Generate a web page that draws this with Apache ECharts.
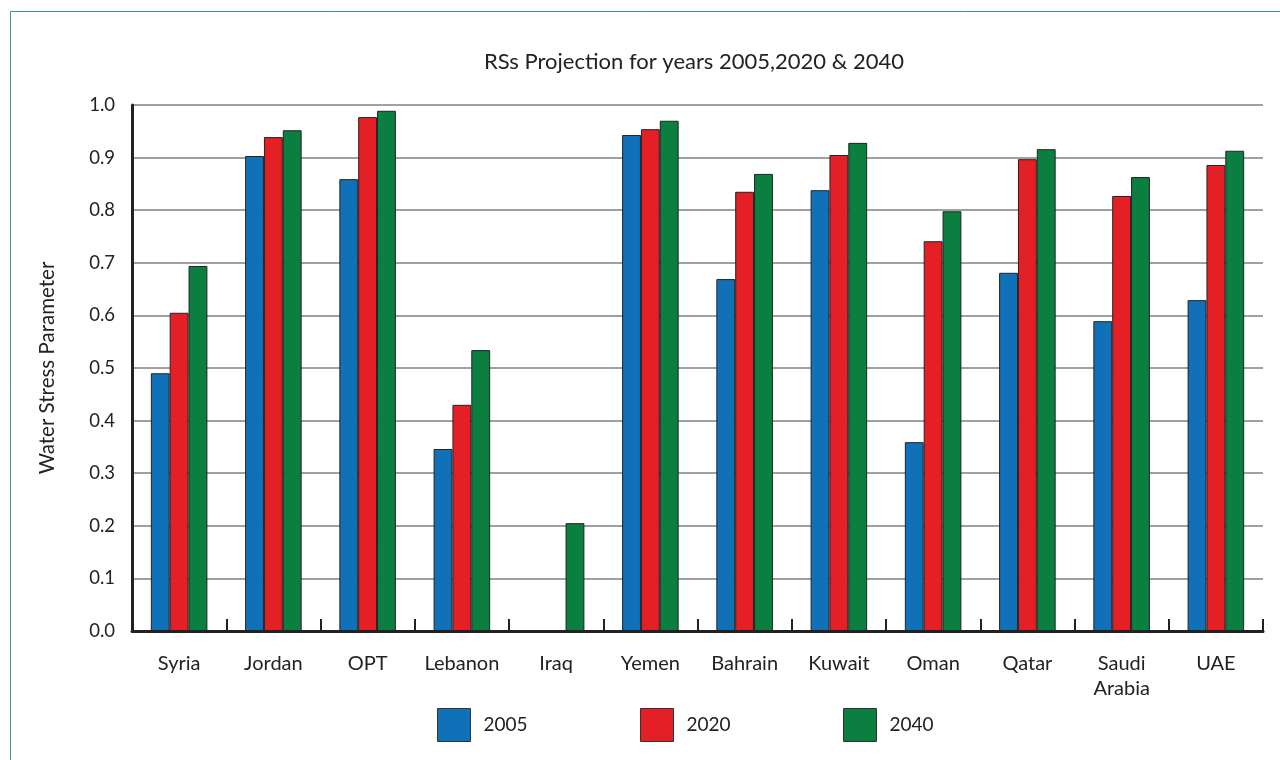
<!DOCTYPE html>
<html>
<head>
<meta charset="utf-8">
<title>RSs Projection</title>
<script src="https://cdn.jsdelivr.net/npm/echarts@6/dist/echarts.min.js"></script>
<style>
  html, body { margin: 0; padding: 0; background: #fff; }
  #chart { width: 1280px; height: 760px; }
</style>
</head>
<body>
<div id="chart"></div>
<script>
// data
var countries = ['Syria', 'Jordan', 'OPT', 'Lebanon', 'Iraq', 'Yemen', 'Bahrain', 'Kuwait', 'Oman', 'Qatar', 'Saudi\nArabia', 'UAE'];
var years = ['2005', '2020', '2040'];
var v2005 = [0.49, 0.903, 0.859, 0.346, null, 0.943, 0.669, 0.838, 0.359, 0.681, 0.589, 0.629];
var v2020 = [0.605, 0.939, 0.977, 0.43, null, 0.954, 0.835, 0.905, 0.741, 0.897, 0.827, 0.886];
var v2040 = [0.694, 0.952, 0.989, 0.534, 0.205, 0.970, 0.869, 0.928, 0.798, 0.916, 0.863, 0.913];
var yTicks = ['0.0', '0.1', '0.2', '0.3', '0.4', '0.5', '0.6', '0.7', '0.8', '0.9', '1.0'];

var colors = ['#1070b8', '#e41f26', '#0a7f40'];
var font = 'Lato, "Open Sans", sans-serif';

var myChart = echarts.init(document.getElementById('chart'));

// one legend per year so each box sits where it does in the picture
var legendLeft = [437, 640, 843];
var legends = years.map(function (y, i) {
    return {
        data: [y],
        left: legendLeft[i],
        top: 708,
        padding: 0,
        itemWidth: 33,
        itemHeight: 33,
        icon: 'rect',
        textStyle: { fontFamily: font, fontSize: 19, color: '#222', padding: [0, 0, 0, 8] },
        itemStyle: { borderColor: '#333', borderWidth: 1 }
    };
});

function barSeries(name, data, i) {
    return {
        name: name,
        type: 'bar',
        data: data,
        barGap: '0%',
        barCategoryGap: '40%',
        itemStyle: { color: colors[i], borderColor: '#222', borderWidth: 1 }
    };
}

var option = {
    backgroundColor: '#fff',
    animation: false,
    color: colors,
    title: {
        text: 'RSs Projection for years 2005,2020 & 2040',
        left: 689,
        textAlign: 'center',
        top: 46,
        textStyle: { fontFamily: font, fontSize: 22, fontWeight: 'normal', color: '#222' }
    },
    graphic: [{
        type: 'rect',
        shape: { x: 10.5, y: 11.5, width: 1400, height: 900 },
        style: { fill: 'none', stroke: '#3f9a68', lineWidth: 1 },
        silent: true
    }],
    legend: legends,
    grid: { left: 132, right: 17, top: 105, bottom: 129 },
    xAxis: {
        type: 'category',
        data: countries,
        axisLine: { lineStyle: { color: '#222', width: 3 } },
        axisTick: { show: true, inside: true, length: 12, lineStyle: { color: '#222', width: 2 } },
        axisLabel: { interval: 0, fontFamily: font, fontSize: 20, color: '#222', margin: 20, lineHeight: 25 }
    },
    yAxis: {
        type: 'value',
        min: 0,
        max: 1,
        interval: 0.1,
        name: 'Water Stress Parameter',
        nameLocation: 'middle',
        nameGap: 74,
        nameTextStyle: { fontFamily: font, fontSize: 20.5, color: '#222' },
        axisLine: { show: true, lineStyle: { color: '#222', width: 3 } },
        axisTick: { show: false },
        axisLabel: {
            fontFamily: font, fontSize: 18.5, color: '#222', margin: 17,
            formatter: function (v) { return yTicks[Math.round(v * 10)]; }
        },
        splitLine: { lineStyle: { color: '#808080', width: 1.5 } }
    },
    series: [
        barSeries('2005', v2005, 0),
        barSeries('2020', v2020, 1),
        barSeries('2040', v2040, 2)
    ]
};

myChart.setOption(option);
</script>
</body>
</html>
